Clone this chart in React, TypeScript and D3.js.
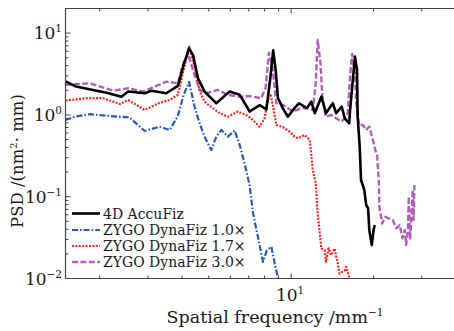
import React from 'react';
import * as d3 from 'd3';

// 4D AccuFiz
const accuFreq = [1.5, 1.64, 1.89, 2.12, 2.40, 2.54, 2.92, 3.09, 3.50, 3.86, 4.05, 4.24, 4.38, 4.57, 4.83, 5.33, 5.96, 6.49, 7.06, 7.67, 8.12, 8.38, 8.60, 8.78, 8.95, 9.31, 9.73, 10.3, 10.7, 11.4, 11.85, 12.2, 12.9, 13.4, 14.2, 14.6, 15.3, 15.7, 16.3, 16.4, 16.8, 17.1, 17.4, 17.5, 17.8, 18.0, 18.5, 18.8, 19.1, 19.3, 19.7, 20.0, 20.2];
const accuPsd = [2.57, 2.22, 2.02, 1.87, 1.67, 1.93, 1.84, 1.97, 1.84, 2.26, 4.09, 6.52, 5.42, 2.81, 1.93, 1.39, 1.93, 1.76, 1.10, 1.32, 1.17, 2.68, 6.15, 3.55, 1.61, 1.22, 0.95, 1.22, 1.39, 1.21, 1.45, 1.05, 1.67, 1.05, 1.39, 1.05, 1.26, 0.91, 0.79, 1.10, 2.68, 5.17, 3.56, 0.95, 0.41, 0.16, 0.121, 0.079, 0.072, 0.039, 0.0256, 0.039, 0.045];

// ZYGO DynaFiz 1.0x
const z10Freq = [1.5, 1.62, 1.84, 2.18, 2.57, 2.92, 3.31, 3.60, 3.86, 4.05, 4.24, 4.44, 4.64, 4.83, 5.11, 5.33, 5.56, 5.88, 6.22, 6.49, 6.68, 6.88, 7.06, 7.25, 7.42, 7.61, 7.89, 8.16, 8.47, 8.71, 8.97];
const z10Psd = [0.867, 0.952, 1.02, 0.97, 0.93, 0.636, 0.718, 0.654, 0.97, 1.76, 2.53, 1.26, 0.775, 0.542, 0.372, 0.542, 0.654, 0.542, 0.646, 0.429, 0.297, 0.200, 0.135, 0.0648, 0.0437, 0.0294, 0.016, 0.0222, 0.0244, 0.0153, 0.0098];

// ZYGO DynaFiz 1.7x
const z17Freq = [1.5, 1.79, 2.06, 2.37, 2.54, 2.92, 3.31, 3.60, 3.86, 4.05, 4.24, 4.44, 4.64, 4.83, 5.18, 5.48, 5.88, 6.39, 6.86, 7.25, 7.67, 8.00, 8.23, 8.40, 8.58, 8.83, 9.33, 9.87, 10.3, 10.6, 11.2, 11.7, 12.0, 12.3, 12.5, 12.9, 13.25, 13.4, 13.7, 14.0, 14.4, 14.8, 15.0, 15.7, 15.9, 16.35];
const z17Psd = [1.50, 1.60, 1.60, 1.36, 1.52, 1.15, 1.41, 1.52, 1.76, 3.55, 6.85, 3.90, 1.93, 1.45, 1.21, 1.05, 0.95, 1.10, 1.0, 0.867, 0.718, 0.91, 1.52, 1.81, 1.32, 0.753, 0.712, 0.624, 0.542, 0.518, 0.568, 0.494, 0.212, 0.146, 0.0625, 0.0233, 0.0222, 0.016, 0.0233, 0.0193, 0.0233, 0.0153, 0.0115, 0.0126, 0.0139, 0.0100];

// ZYGO DynaFiz 3.0x
const z30Freq = [1.5, 1.84, 2.24, 2.54, 2.88, 3.50, 3.86, 4.02, 4.20, 4.38, 4.64, 4.90, 5.40, 5.88, 6.49, 7.06, 7.78, 8.07, 8.30, 8.54, 8.83, 9.33, 10.15, 10.9, 11.5, 12.0, 12.3, 12.5, 12.8, 13.0, 13.4, 14.0, 14.6, 15.25, 15.7, 16.1, 16.45, 16.7, 17.1, 17.3, 17.7, 18.3, 18.8, 19.3, 19.9, 20.3, 20.6, 20.9, 21.0, 21.5, 22.1, 22.7, 23.5, 24.2, 24.9, 25.5, 26.0, 26.3, 26.7, 26.9, 27.2, 27.5, 27.8, 28.0, 28.2];
const z30Psd = [2.33, 2.44, 1.98, 2.12, 1.93, 2.55, 2.44, 4.09, 5.69, 3.55, 2.02, 1.84, 2.02, 1.76, 1.67, 1.70, 1.60, 2.14, 5.78, 3.90, 1.39, 1.32, 1.10, 1.21, 1.21, 1.15, 2.44, 8.28, 4.29, 1.67, 0.95, 1.0, 0.91, 0.83, 0.91, 1.05, 3.24, 5.58, 3.24, 1.39, 0.753, 0.753, 0.654, 0.718, 0.494, 0.372, 0.324, 0.160, 0.075, 0.047, 0.0568, 0.0544, 0.0518, 0.041, 0.045, 0.031, 0.039, 0.0256, 0.039, 0.1, 0.03, 0.0568, 0.121, 0.0518, 0.139];

const seriesNames = ['4D AccuFiz', 'ZYGO DynaFiz 1.0×', 'ZYGO DynaFiz 1.7×', 'ZYGO DynaFiz 3.0×'];
const xTickExp = [1];
const yTickExp = [-2, -1, 0, 1];

const FONT = "'DejaVu Serif', serif";

export default function App() {
  const left = 65.5, top = 8.5, bottom = 278.5, right = 456;
  const x = d3.scaleLog().domain([1.5, 40]).range([left, right]);
  const y = d3.scaleLog().domain([0.01, 20]).range([bottom, top]);

  const line = d3.line<[number, number]>().x(d => x(d[0])).y(d => y(d[1]));
  const zip = (f: number[], p: number[]) => f.map((v, i) => [v, p[i]] as [number, number]);

  const styles = [
    { color: '#000000', width: 2.6, dash: 'none' },
    { color: '#2a58b8', width: 2.2, dash: '6,2,1.6,2' },
    { color: '#f02828', width: 2.2, dash: '2,1.4' },
    { color: '#b060b8', width: 2.4, dash: '6,2.4' },
  ];
  const data = [zip(accuFreq, accuPsd), zip(z10Freq, z10Psd), zip(z17Freq, z17Psd), zip(z30Freq, z30Psd)];
  const drawOrder = [3, 2, 1, 0];

  const xMinor: number[] = [];
  [1, 10].forEach(d => { for (let k = 2; k <= 9; k++) { const v = d * k; if (v >= 1.5 && v <= 40) xMinor.push(v); } });
  const yMinor: number[] = [];
  [0.01, 0.1, 1, 10].forEach(d => { for (let k = 2; k <= 9; k++) { const v = d * k; if (v <= 20) yMinor.push(v); } });

  const legendY = [213.5, 230, 246, 262];

  return (
    <div style={{ position: 'fixed', left: 0, top: 0 }}>
      <svg width={454} height={331} style={{ display: 'block', background: '#fff' }}>
        <defs>
          <clipPath id="plot">
            <rect x={left} y={top} width={right - left} height={bottom - top} />
          </clipPath>
        </defs>

        <g clipPath="url(#plot)">
          {drawOrder.map(i => (
            <path key={i} d={line(data[i]) || ''} fill="none" stroke={styles[i].color}
              strokeWidth={styles[i].width} strokeDasharray={styles[i].dash} strokeLinejoin="round" />
          ))}
        </g>

        {/* frame */}
        <path d={`M${right},${top}H${left}V${bottom}H${right}`} fill="none" stroke="#444" strokeWidth={1.2} />

        {/* x ticks, inward on bottom and top */}
        {xMinor.map(v => (
          <g key={'xm' + v}>
            <line x1={x(v)} x2={x(v)} y1={bottom} y2={bottom - 3} stroke="#444" />
            <line x1={x(v)} x2={x(v)} y1={top} y2={top + 3} stroke="#444" />
          </g>
        ))}
        {xTickExp.map(e => (
          <g key={'xM' + e}>
            <line x1={x(10 ** e)} x2={x(10 ** e)} y1={bottom} y2={bottom - 5} stroke="#444" />
            <line x1={x(10 ** e)} x2={x(10 ** e)} y1={top} y2={top + 5} stroke="#444" />
            <text x={x(10 ** e) - 1} y={301} textAnchor="middle" fontFamily={FONT} fontSize={17} fill="#1a1a1a">
              10<tspan dy={-7} fontSize={10.5}>{e}</tspan>
            </text>
          </g>
        ))}

        {/* y ticks */}
        {yMinor.map(v => (
          <line key={'ym' + v} x1={left} x2={left + 3} y1={y(v)} y2={y(v)} stroke="#444" />
        ))}
        {yTickExp.map(e => (
          <g key={'yM' + e}>
            <line x1={left} x2={left + 5} y1={y(10 ** e)} y2={y(10 ** e)} stroke="#444" />
            <text x={62} y={y(10 ** e) + 6} textAnchor="end" fontFamily={FONT} fontSize={17} fill="#1a1a1a">
              10<tspan dy={-7} fontSize={10.5}>{e < 0 ? '−' + -e : e}</tspan>
            </text>
          </g>
        ))}

        {/* axis titles */}
        <text x={275} y={323} textAnchor="middle" fontFamily={FONT} fontSize={17.5} fill="#1a1a1a">
          Spatial frequency /mm<tspan dy={-7} fontSize={10.5}>−1</tspan>
        </text>
        <text transform="translate(23,161) rotate(-90)" textAnchor="middle" fontFamily={FONT} fontSize={16.5} fill="#1a1a1a">
          PSD /(nm<tspan dy={-6.5} fontSize={10}>2</tspan><tspan dy={6.5}>· mm)</tspan>
        </text>

        {/* legend */}
        {seriesNames.map((name, i) => (
          <g key={name}>
            <line x1={72} x2={100} y1={legendY[i]} y2={legendY[i]} stroke={styles[i].color}
              strokeWidth={styles[i].width} strokeDasharray={styles[i].dash} />
            <text x={103} y={legendY[i] + 5} fontFamily={FONT} fontSize={14} fill="#1a1a1a">{name}</text>
          </g>
        ))}
      </svg>
    </div>
  );
}
